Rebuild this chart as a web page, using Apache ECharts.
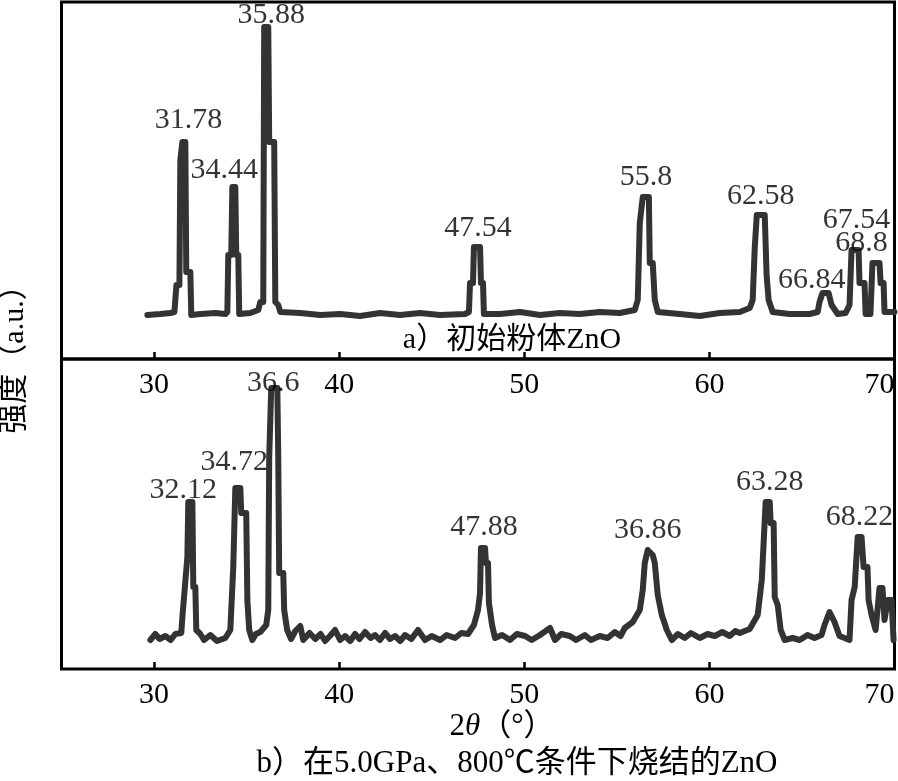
<!DOCTYPE html>
<html>
<head>
<meta charset="utf-8">
<script src="https://cdn.jsdelivr.net/npm/echarts@6/dist/echarts.min.js"></script>
<style>
  html, body { margin: 0; padding: 0; background: #fff; }
  #chart { width: 898px; height: 781px; }
</style>
</head>
<body>
<div id="chart"></div>
<script>
// 刻度
const xTicks = [30, 40, 50, 60, 70]

// a) 初始粉体ZnO: [2θ, 强度]
const traceA = [
  [29.64, 44], [30.34, 45], [30.88, 46], [31.10, 47], [31.21, 74], [31.37, 74],
  [31.42, 199], [31.53, 217], [31.69, 217], [31.74, 87], [31.96, 87], [32.01, 44],
  [32.50, 45], [33.31, 46], [33.85, 45],
  [33.96, 47], [34.01, 104], [34.17, 104], [34.23, 172], [34.39, 172], [34.44, 104],
  [34.55, 104], [34.60, 45],
  [35.20, 46], [35.63, 49], [35.74, 57],
  [35.90, 57], [35.95, 332], [36.17, 332], [36.22, 217], [36.49, 217], [36.55, 57],
  [36.71, 54], [36.82, 47],
  [37.90, 46], [38.98, 44], [40.05, 45], [41.13, 43], [42.21, 46], [43.29, 44],
  [44.37, 46], [45.45, 44], [46.80, 45],
  [47.01, 47], [47.07, 76], [47.23, 76], [47.28, 112], [47.61, 112], [47.66, 76],
  [47.77, 76], [47.82, 45],
  [48.69, 45], [49.77, 47], [50.85, 44], [51.92, 46], [53.00, 45], [54.08, 47],
  [55.16, 46], [55.97, 49],
  [56.13, 59], [56.24, 136], [56.40, 162], [56.73, 162], [56.78, 96], [56.94, 96],
  [57.05, 59], [57.21, 47],
  [58.40, 45], [59.48, 43], [60.56, 46], [61.64, 47], [62.18, 51],
  [62.34, 59], [62.45, 111], [62.56, 144], [62.99, 144], [63.09, 84], [63.20, 59],
  [63.42, 47],
  [64.33, 45], [65.41, 45], [65.85, 47],
  [65.95, 57], [66.11, 66], [66.44, 66], [66.60, 54], [66.93, 45], [67.36, 46],
  [67.57, 54], [67.68, 109], [68.06, 109], [68.11, 76], [68.38, 76], [68.44, 45],
  [68.70, 45], [68.81, 96], [69.19, 96], [69.25, 76], [69.41, 76], [69.46, 47],
  [70.00, 47]
]

// b) 在5.0GPa、800℃条件下烧结的ZnO
const traceB = [
  [29.80, 29], [30.07, 35], [30.30, 30], [30.61, 33], [30.90, 29], [31.15, 35], [31.47, 36],
  [31.53, 52], [31.80, 112], [31.85, 167], [32.07, 167], [32.12, 82], [32.23, 82],
  [32.28, 39], [32.50, 35], [32.70, 29], [33.04, 34], [33.40, 28], [33.85, 31], [34.12, 39],
  [34.28, 102], [34.39, 181], [34.66, 181], [34.71, 156], [34.98, 156], [35.04, 69],
  [35.14, 39], [35.31, 29], [35.50, 35], [35.74, 37], [36.06, 44], [36.17, 59],
  [36.22, 211], [36.33, 281], [36.66, 281], [36.71, 211], [36.76, 96], [36.98, 96],
  [37.03, 59], [37.19, 39], [37.40, 30], [37.63, 38], [37.90, 43], [38.06, 29],
  [38.40, 36], [38.71, 30], [39.00, 35], [39.24, 28], [39.50, 33], [39.78, 39], [40.05, 29],
  [40.32, 33], [40.60, 28], [40.86, 35], [41.10, 30], [41.40, 37], [41.70, 31],
  [41.94, 34], [42.20, 29], [42.48, 36], [42.75, 30], [43.02, 33], [43.30, 28],
  [43.56, 34], [43.90, 30], [44.26, 39], [44.64, 29], [45.00, 33], [45.45, 29],
  [45.80, 34], [46.26, 31], [46.60, 36], [46.96, 35], [47.28, 44],
  [47.50, 59], [47.61, 76], [47.66, 121], [47.88, 121], [47.93, 106], [48.04, 106],
  [48.09, 66], [48.26, 44], [48.42, 31],
  [48.80, 34], [49.23, 29], [49.60, 35], [50.04, 33], [50.40, 29], [50.85, 34],
  [51.39, 41], [51.66, 29], [52.00, 35], [52.46, 33], [52.80, 29], [53.27, 34],
  [53.60, 29], [54.08, 33], [54.50, 31], [54.89, 37], [55.20, 33], [55.43, 41],
  [55.86, 47], [56.24, 59],
  [56.40, 79], [56.51, 106], [56.67, 119], [56.94, 114], [57.05, 106], [57.21, 74],
  [57.43, 54], [57.70, 39], [57.97, 29],
  [58.30, 35], [58.67, 31], [59.00, 36], [59.48, 31], [59.90, 35], [60.29, 33],
  [60.70, 37], [61.10, 33], [61.40, 38], [61.64, 36], [62.18, 40],
  [62.61, 54],
  [62.83, 89], [63.04, 167], [63.26, 167], [63.31, 146], [63.47, 146], [63.53, 72],
  [63.69, 64], [63.85, 39], [64.07, 29],
  [64.50, 31], [64.88, 29], [65.30, 34], [65.68, 31], [66.06, 34], [66.22, 44], [66.49, 57], [66.76, 47],
  [67.03, 33], [67.57, 29],
  [67.68, 69], [67.85, 82], [68.01, 132], [68.22, 132], [68.33, 102], [68.54, 102],
  [68.60, 69], [68.76, 54], [68.98, 39], [69.19, 81], [69.35, 81], [69.46, 49],
  [69.63, 69], [69.84, 69], [69.95, 29]
]

// 峰位标注
const peaksA = [[31.53, 217], [34.28, 172], [36.06, 332], [47.45, 112], [56.57, 162],
  [62.77, 144], [66.28, 66], [67.84, 109], [69.03, 96]]
const peakLabelsA = ['31.78', '34.44', '35.88', '47.54', '55.8', '62.58', '66.84', '67.54', '68.8']
const peaksB = [[31.96, 167], [34.50, 181], [36.49, 281], [47.77, 121], [56.78, 119],
  [63.15, 167], [68.11, 132]]
const peakLabelsB = ['32.12', '34.72', '36.6', '47.88', '36.86', '63.28', '68.22']

// 标注偏移(像素)
const offsetsA = [[6, -22], [-9, -17], [5, -12], [1, -19], [0, -20], [0, -19], [-14, -13], [2, -30], [-15, -20]]
const offsetsB = [[-7, -12], [-3, -26], [-1, -5], [1, -21], [-2, -20], [2, -20], [0, -20]]

const FONT = "'Liberation Serif', 'Times New Roman', 'Noto Sans CJK SC', serif"
const LINE = '#333'

const chart = echarts.init(document.getElementById('chart'))

const xAxisBase = (gridIndex) => ({
  type: 'value',
  gridIndex,
  min: 25,
  max: 70,
  axisLine: { show: false },
  splitLine: { show: false },
  axisTick: {
    show: true,
    inside: true,
    length: 7,
    customValues: [30, 40, 50, 60],
    lineStyle: { color: '#000', width: 2.5 }
  },
  axisLabel: {
    show: true,
    customValues: xTicks,
    margin: 11,
    color: '#000',
    fontFamily: FONT,
    fontSize: 30,
    showMaxLabel: true,
    alignMaxLabel: 'right'
  }
})

const yAxisBase = (gridIndex, max) => ({
  type: 'value',
  gridIndex,
  min: 0,
  max,
  show: false
})

const labelSeries = (idx, peaks, labels, offsets) => ({
  type: 'scatter',
  xAxisIndex: idx,
  yAxisIndex: idx,
  symbolSize: 1,
  itemStyle: { color: 'rgba(0,0,0,0)' },
  z: 5,
  silent: true,
  data: peaks.map((p, i) => ({
    value: p,
    label: {
      show: true,
      position: 'inside',
      offset: offsets[i],
      formatter: labels[i],
      color: '#000',
      fontFamily: FONT,
      fontSize: 30
    }
  }))
})

const traceSeries = (idx, data) => ({
  type: 'line',
  xAxisIndex: idx,
  yAxisIndex: idx,
  data,
  symbol: 'none',
  smooth: false,
  z: 3,
  lineStyle: { color: LINE, width: 6, join: 'round', cap: 'round' }
})

chart.setOption({
  animation: false,
  backgroundColor: '#fff',
  grid: [
    { left: 61.5, top: 2, width: 833, height: 357, show: true, borderColor: '#000', borderWidth: 3 },
    { left: 61.5, top: 359, width: 833, height: 310, show: true, borderColor: '#000', borderWidth: 3 }
  ],
  xAxis: [xAxisBase(0), xAxisBase(1)],
  yAxis: [yAxisBase(0, 357), yAxisBase(1, 310)],
  series: [
    traceSeries(0, traceA),
    traceSeries(1, traceB),
    labelSeries(0, peaksA, peakLabelsA, offsetsA),
    labelSeries(1, peaksB, peakLabelsB, offsetsB)
  ],
  graphic: [
    {
      type: 'text',
      x: 512, y: 340,
      style: { text: 'a）初始粉体ZnO', font: '30px ' + FONT, fill: '#000', align: 'center', verticalAlign: 'middle' }
    },
    {
      type: 'text',
      x: 517, y: 764,
      style: { text: 'b）在5.0GPa、800℃条件下烧结的ZnO', font: '31px ' + FONT, fill: '#000', align: 'center', verticalAlign: 'middle' }
    },
    {
      type: 'text',
      x: 502, y: 727,
      style: {
        text: '2{i|θ}（°）',
        font: '31px ' + FONT,
        fill: '#000',
        align: 'center',
        verticalAlign: 'middle',
        rich: { i: { fontStyle: 'italic', fontFamily: FONT, fontSize: 31 } }
      }
    },
    {
      type: 'text',
      x: 15, y: 352,
      rotation: Math.PI / 2,
      style: { text: '强度（a.u.）', font: '30px ' + FONT, fill: '#000', align: 'center', verticalAlign: 'middle' }
    }
  ]
})

window.addEventListener('resize', () => chart.resize())
</script>
</body>
</html>
